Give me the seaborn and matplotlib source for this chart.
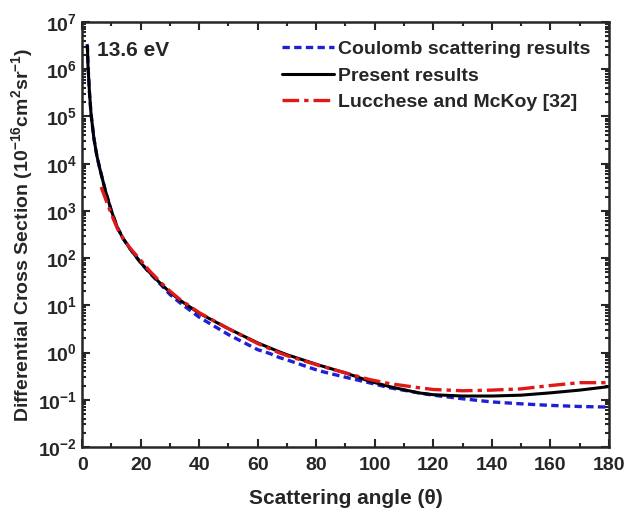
import numpy as np
import pandas as pd
import matplotlib
matplotlib.use("Agg")
import matplotlib.pyplot as plt
import matplotlib.ticker as mticker
import seaborn as sns

theta_present = [1.8, 2, 2.5, 3, 4, 5, 6, 8, 10, 12, 14, 16.3, 20, 23, 27, 30, 33.3, 40, 50,
                 60, 67.5, 70, 81, 90, 98, 105, 115, 120, 130, 140, 150, 160, 170, 180]
dcs_present = [3.1e6, 1.2e6, 3.3e5, 1.2e5, 3.5e4, 1.5e4, 8e3, 2.6e3, 1e3, 4.5e2, 2.6e2, 160,
               80, 50, 28, 19, 13, 6.8, 3.2, 1.6, 1.03, 0.9, 0.54, 0.37, 0.25, 0.19,
               0.14, 0.128, 0.12, 0.12, 0.125, 0.14, 0.16, 0.19]

theta_coulomb = [1.6, 1.8, 2, 2.5, 3, 4, 5, 6, 8, 10, 12, 14, 16.3, 20, 23, 27, 30, 33.3, 40,
                 50, 60, 64, 67.5, 70, 81, 90, 98, 105, 115, 120, 130, 140, 150, 160, 170,
                 180]
dcs_coulomb = [3.4e6, 3.1e6, 1.2e6, 3.3e5, 1.2e5, 3.5e4, 1.5e4, 8e3, 2.6e3, 1e3, 4.5e2, 2.6e2,
               160, 80, 49, 27, 17, 11.5, 5.6, 2.4, 1.15, 0.96, 0.78, 0.7, 0.41, 0.3, 0.23,
               0.18, 0.14, 0.125, 0.105, 0.09, 0.082, 0.076, 0.072, 0.07]

theta_lucchese = [6.5, 8, 10, 12, 14, 16.3, 20, 23, 27, 30, 33.3, 40, 50, 60, 67.5, 70, 81,
                  90, 98, 105, 115, 120, 130, 140, 150, 160, 170, 180]
dcs_lucchese = [3.2e3, 1.8e3, 8.5e2, 4.3e2, 2.6e2, 165, 90, 54, 30, 20, 13.5, 7.0, 3.2,
                1.55, 0.98, 0.86, 0.53, 0.37, 0.27, 0.22, 0.18, 0.165, 0.155, 0.16, 0.17,
                0.2, 0.23, 0.23]

labels = ["Coulomb scattering results", "Present results", "Lucchese and McKoy [32]"]

sns.set_theme(style="ticks")
plt.rcParams['font.family'] = ['Liberation Sans', 'DejaVu Sans']
plt.rcParams['font.weight'] = 'bold'
plt.rcParams['mathtext.fontset'] = 'custom'
plt.rcParams['mathtext.rm'] = 'Liberation Sans:bold'
plt.rcParams['mathtext.bf'] = 'Liberation Sans:bold'
plt.rcParams['mathtext.it'] = 'Liberation Sans:bold'
plt.rcParams['mathtext.default'] = 'bf'

fig = plt.figure(figsize=(6.27, 5.12), dpi=100)
ax = fig.add_axes([0.131, 0.127, 0.84, 0.83])

df_c = pd.DataFrame({"theta": theta_coulomb, "dcs": dcs_coulomb})
df_p = pd.DataFrame({"theta": theta_present, "dcs": dcs_present})
df_l = pd.DataFrame({"theta": theta_lucchese, "dcs": dcs_lucchese})

sns.lineplot(data=df_c, x="theta", y="dcs", ax=ax, color="#1f1fd6", lw=2.4,
             linestyle=(0, (2.2, 1.3)), label=labels[0])
sns.lineplot(data=df_p, x="theta", y="dcs", ax=ax, color="black", lw=2.2,
             label=labels[1])
sns.lineplot(data=df_l, x="theta", y="dcs", ax=ax, color="#e01818", lw=2.4,
             linestyle=(0, (5, 1.5, 1.3, 1.5)), label=labels[2])

ax.set_yscale('log')
ax.set_xlim(0, 180)
ax.set_ylim(1e-2, 1e7)
ax.xaxis.set_major_locator(mticker.MultipleLocator(20))
ax.xaxis.set_minor_locator(mticker.MultipleLocator(10))
ax.yaxis.set_major_locator(mticker.LogLocator(base=10, numticks=20))
ax.yaxis.set_minor_locator(mticker.LogLocator(base=10, subs=np.arange(2, 10), numticks=20))
ax.yaxis.set_minor_formatter(mticker.NullFormatter())

ax.tick_params(which='both', direction='in', top=True, right=True, width=1.5)
ax.tick_params(which='major', length=6, labelsize=14)
ax.tick_params(which='minor', length=3)
ax.tick_params(axis='x', which='major', pad=7)
for lab in ax.get_xticklabels() + ax.get_yticklabels():
    lab.set_fontweight('bold')
for s in ax.spines.values():
    s.set_linewidth(1.8)

ax.set_xlabel("Scattering angle (\u03b8)", fontsize=15, fontweight='bold', labelpad=11)
ax.set_ylabel("Differential Cross Section (10$^{-16}$cm$^{2}$sr$^{-1}$)", fontsize=14,
              fontweight='bold', labelpad=2)

ax.text(0.028, 0.955, "13.6 eV", transform=ax.transAxes, fontsize=15, fontweight='bold',
        va='top', ha='left')

leg = ax.legend(loc='upper right', frameon=False, handlelength=2.7,
                handletextpad=0.2, labelspacing=0.46, borderaxespad=0.55,
                prop={'weight': 'bold', 'size': 14})

fig.savefig("out.png", dpi=100)
